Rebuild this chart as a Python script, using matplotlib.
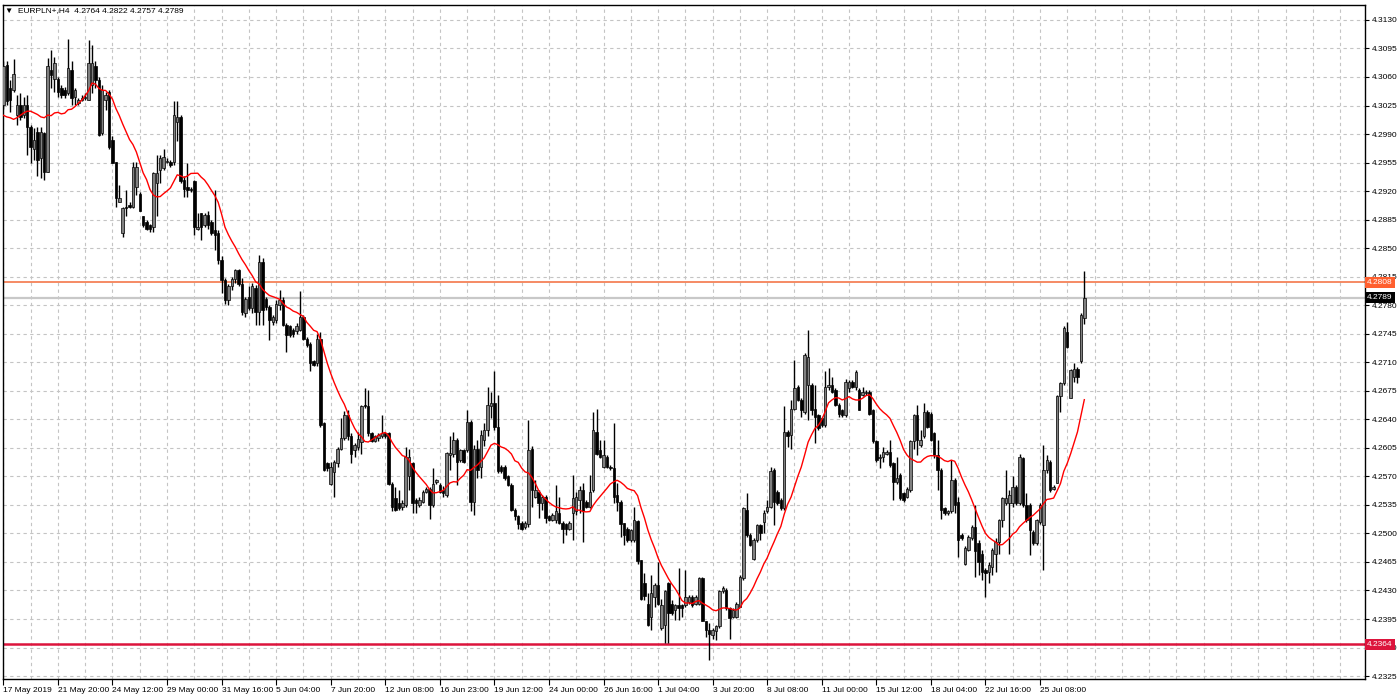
import numpy as np
import pandas as pd
import matplotlib.pyplot as plt
from matplotlib.transforms import blended_transform_factory

plt.rcParams['font.family'] = ['Liberation Sans', 'DejaVu Sans']

header = "\u25BC  EURPLN+,H4  4.2764 4.2822 4.2757 4.2789"

# H4 bars
opens = [
    4.3026, 4.3075, 4.3046, 4.3044, 4.3013, 4.3026, 4.3013, 4.3026, 4.2999, 4.2972,
    4.2993, 4.2960, 4.2991, 4.2944, 4.3069, 4.3058, 4.3058, 4.3046, 4.3044, 4.3040,
    4.3069, 4.3036, 4.3028, 4.3032, 4.3034, 4.3032, 4.3050, 4.3073, 4.3056, 4.2991,
    4.3032, 4.3042, 4.2983, 4.2956, 4.2907, 4.2868, 4.2901, 4.2903, 4.2901, 4.2925,
    4.2917, 4.2889, 4.2882, 4.2878, 4.2876, 4.2930, 4.2946, 4.2948, 4.2956, 4.2956,
    4.2956, 4.3005, 4.3011, 4.2934, 4.2925, 4.2923, 4.2932, 4.2874, 4.2893, 4.2878,
    4.2891, 4.2882, 4.2872, 4.2868, 4.2835, 4.2811, 4.2786, 4.2803, 4.2812, 4.2823,
    4.2806, 4.2770, 4.2790, 4.2776, 4.2801, 4.2772, 4.2833, 4.2788, 4.2778, 4.2760,
    4.2762, 4.2780, 4.2786, 4.2756, 4.2754, 4.2750, 4.2748, 4.2750, 4.2766, 4.2739,
    4.2733, 4.2711, 4.2709, 4.2739, 4.2635, 4.2586, 4.2561, 4.2575, 4.2586, 4.2604,
    4.2617, 4.2645, 4.2619, 4.2602, 4.2606, 4.2612, 4.2658, 4.2656, 4.2623, 4.2614,
    4.2617, 4.2619, 4.2623, 4.2623, 4.2561, 4.2543, 4.2537, 4.2533, 4.2535, 4.2570,
    4.2586, 4.2541, 4.2535, 4.2539, 4.2551, 4.2555, 4.2535, 4.2563, 4.2560, 4.2553,
    4.2547, 4.2596, 4.2598, 4.2615, 4.2590, 4.2602, 4.2602, 4.2637, 4.2539, 4.2604,
    4.2582, 4.2615, 4.2627, 4.2656, 4.2660, 4.2631, 4.2582, 4.2582, 4.2570, 4.2560,
    4.2529, 4.2521, 4.2513, 4.2508, 4.2511, 4.2604, 4.2545, 4.2551, 4.2537, 4.2545,
    4.2521, 4.2517, 4.2517, 4.2525, 4.2513, 4.2511, 4.2506, 4.2525, 4.2527, 4.2541,
    4.2553, 4.2539, 4.2533, 4.2553, 4.2625, 4.2602, 4.2582, 4.2594, 4.2582, 4.2580,
    4.2547, 4.2539, 4.2513, 4.2506, 4.2492, 4.2492, 4.2515, 4.2468, 4.2439, 4.2414,
    4.2398, 4.2422, 4.2437, 4.2384, 4.2388, 4.2439, 4.2414, 4.2406, 4.2412, 4.2412,
    4.2412, 4.2416, 4.2422, 4.2414, 4.2414, 4.2445, 4.2392, 4.2382, 4.2375, 4.2380,
    4.2386, 4.2429, 4.2431, 4.2408, 4.2398, 4.2398, 4.2410, 4.2445, 4.2529, 4.2498,
    4.2469, 4.2492, 4.2510, 4.2514, 4.2527, 4.2533, 4.2578, 4.2551, 4.2541, 4.2531,
    4.2625, 4.2621, 4.2653, 4.2680, 4.2664, 4.2649, 4.2682, 4.2682, 4.2653, 4.2645,
    4.2641, 4.2633, 4.2680, 4.2682, 4.2676, 4.2658, 4.2651, 4.2645, 4.2678, 4.2686,
    4.2680, 4.2676, 4.2670, 4.2672, 4.2674, 4.2651, 4.2613, 4.2592, 4.2594, 4.2598,
    4.2600, 4.2586, 4.2563, 4.2572, 4.2549, 4.2545, 4.2553, 4.2613, 4.2645, 4.2609,
    4.2619, 4.2649, 4.2647, 4.2623, 4.2596, 4.2578, 4.2531, 4.2525, 4.2527, 4.2566,
    4.2539, 4.2498, 4.2463, 4.2480, 4.2494, 4.2508, 4.2488, 4.2475, 4.2455, 4.2453,
    4.2459, 4.2475, 4.2490, 4.2516, 4.2537, 4.2537, 4.2537, 4.2557, 4.2537, 4.2592,
    4.2535, 4.2535, 4.2502, 4.2488, 4.2514, 4.2510, 4.2578, 4.2588, 4.2555, 4.2562,
    4.2668, 4.2684, 4.2747, 4.2666, 4.2692, 4.2702, 4.2711, 4.2764,
]
highs = [
    4.3079, 4.3079, 4.3056, 4.3082, 4.3038, 4.3040, 4.3036, 4.3038, 4.3001, 4.2997,
    4.2999, 4.2999, 4.2993, 4.3083, 4.3093, 4.3085, 4.3060, 4.3050, 4.3048, 4.3107,
    4.3079, 4.3046, 4.3034, 4.3038, 4.3040, 4.3105, 4.3099, 4.3079, 4.3060, 4.3050,
    4.3042, 4.3044, 4.2987, 4.2956, 4.2928, 4.2901, 4.2921, 4.2907, 4.2956, 4.2956,
    4.2919, 4.2889, 4.2884, 4.2880, 4.2944, 4.2964, 4.2964, 4.2972, 4.2960, 4.2958,
    4.3030, 4.3030, 4.3013, 4.2938, 4.2954, 4.2925, 4.2934, 4.2893, 4.2893, 4.2893,
    4.2895, 4.2884, 4.2921, 4.2872, 4.2840, 4.2813, 4.2806, 4.2815, 4.2825, 4.2825,
    4.2813, 4.2790, 4.2803, 4.2807, 4.2805, 4.2842, 4.2838, 4.2790, 4.2780, 4.2768,
    4.2786, 4.2799, 4.2790, 4.2758, 4.2756, 4.2752, 4.2758, 4.2797, 4.2768, 4.2741,
    4.2735, 4.2713, 4.2745, 4.2747, 4.2637, 4.2588, 4.2588, 4.2590, 4.2606, 4.2641,
    4.2650, 4.2651, 4.2623, 4.2611, 4.2625, 4.2658, 4.2678, 4.2676, 4.2625, 4.2621,
    4.2623, 4.2645, 4.2625, 4.2625, 4.2563, 4.2557, 4.2553, 4.2541, 4.2606, 4.2604,
    4.2588, 4.2543, 4.2545, 4.2553, 4.2557, 4.2557, 4.2580, 4.2567, 4.2562, 4.2558,
    4.2600, 4.2619, 4.2625, 4.2617, 4.2604, 4.2604, 4.2651, 4.2639, 4.2608, 4.2615,
    4.2627, 4.2635, 4.2680, 4.2674, 4.2699, 4.2670, 4.2584, 4.2584, 4.2572, 4.2562,
    4.2531, 4.2523, 4.2515, 4.2515, 4.2639, 4.2607, 4.2566, 4.2553, 4.2547, 4.2547,
    4.2523, 4.2525, 4.2560, 4.2545, 4.2515, 4.2513, 4.2515, 4.2572, 4.2551, 4.2558,
    4.2562, 4.2541, 4.2572, 4.2649, 4.2653, 4.2615, 4.2615, 4.2596, 4.2584, 4.2635,
    4.2562, 4.2541, 4.2513, 4.2508, 4.2506, 4.2533, 4.2517, 4.2468, 4.2451, 4.2427,
    4.2449, 4.2439, 4.2465, 4.2420, 4.2431, 4.2441, 4.2418, 4.2414, 4.2457, 4.2414,
    4.2455, 4.2425, 4.2425, 4.2425, 4.2447, 4.2447, 4.2392, 4.2390, 4.2384, 4.2388,
    4.2431, 4.2435, 4.2433, 4.2410, 4.2408, 4.2416, 4.2449, 4.2533, 4.2549, 4.2500,
    4.2494, 4.2512, 4.2512, 4.2529, 4.2541, 4.2582, 4.2580, 4.2553, 4.2543, 4.2656,
    4.2627, 4.2664, 4.2713, 4.2682, 4.2666, 4.2721, 4.2750, 4.2684, 4.2682, 4.2647,
    4.2643, 4.2699, 4.2703, 4.2692, 4.2678, 4.2660, 4.2653, 4.2690, 4.2688, 4.2688,
    4.2701, 4.2678, 4.2680, 4.2676, 4.2676, 4.2653, 4.2615, 4.2598, 4.2606, 4.2602,
    4.2615, 4.2588, 4.2594, 4.2574, 4.2551, 4.2557, 4.2615, 4.2647, 4.2657, 4.2627,
    4.2660, 4.2651, 4.2649, 4.2625, 4.2615, 4.2580, 4.2533, 4.2529, 4.2590, 4.2568,
    4.2545, 4.2500, 4.2484, 4.2498, 4.2510, 4.2535, 4.2492, 4.2480, 4.2457, 4.2465,
    4.2482, 4.2494, 4.2518, 4.2545, 4.2578, 4.2553, 4.2570, 4.2559, 4.2598, 4.2594,
    4.2549, 4.2537, 4.2504, 4.2518, 4.2537, 4.2608, 4.2596, 4.2590, 4.2559, 4.2670,
    4.2686, 4.2754, 4.2760, 4.2702, 4.2709, 4.2704, 4.2770, 4.2822,
]
lows = [
    4.3021, 4.3026, 4.3017, 4.3042, 4.3001, 4.3007, 4.3010, 4.2964, 4.2954, 4.2958,
    4.2938, 4.2936, 4.2934, 4.2944, 4.3046, 4.3042, 4.3036, 4.3034, 4.3034, 4.3038,
    4.3026, 4.3026, 4.3026, 4.3030, 4.3032, 4.3032, 4.3040, 4.3046, 4.2987, 4.2989,
    4.3019, 4.2972, 4.2954, 4.2901, 4.2907, 4.2864, 4.2889, 4.2899, 4.2899, 4.2915,
    4.2895, 4.2876, 4.2872, 4.2870, 4.2870, 4.2889, 4.2930, 4.2946, 4.2954, 4.2950,
    4.2952, 4.2981, 4.2930, 4.2913, 4.2913, 4.2919, 4.2866, 4.2872, 4.2860, 4.2876,
    4.2874, 4.2866, 4.2848, 4.2830, 4.2795, 4.2782, 4.2780, 4.2799, 4.2807, 4.2803,
    4.2768, 4.2766, 4.2774, 4.2770, 4.2756, 4.2756, 4.2756, 4.2774, 4.2737, 4.2756,
    4.2758, 4.2774, 4.2754, 4.2723, 4.2741, 4.2741, 4.2745, 4.2748, 4.2737, 4.2729,
    4.2699, 4.2705, 4.2705, 4.2631, 4.2576, 4.2576, 4.2559, 4.2545, 4.2582, 4.2602,
    4.2615, 4.2615, 4.2586, 4.2594, 4.2602, 4.2598, 4.2654, 4.2619, 4.2612, 4.2612,
    4.2614, 4.2617, 4.2617, 4.2559, 4.2527, 4.2527, 4.2529, 4.2529, 4.2533, 4.2553,
    4.2525, 4.2525, 4.2533, 4.2537, 4.2549, 4.2518, 4.2533, 4.2561, 4.2549, 4.2545,
    4.2545, 4.2578, 4.2594, 4.2560, 4.2588, 4.2586, 4.2600, 4.2527, 4.2523, 4.2568,
    4.2568, 4.2607, 4.2619, 4.2641, 4.2627, 4.2574, 4.2574, 4.2566, 4.2558, 4.2527,
    4.2517, 4.2506, 4.2504, 4.2506, 4.2508, 4.2533, 4.2543, 4.2519, 4.2529, 4.2513,
    4.2515, 4.2515, 4.2513, 4.2511, 4.2488, 4.2498, 4.2504, 4.2492, 4.2523, 4.2525,
    4.2490, 4.2531, 4.2531, 4.2551, 4.2596, 4.2592, 4.2580, 4.2580, 4.2578, 4.2537,
    4.2527, 4.2496, 4.2486, 4.2490, 4.2490, 4.2490, 4.2463, 4.2418, 4.2418, 4.2386,
    4.2382, 4.2410, 4.2412, 4.2382, 4.2365, 4.2365, 4.2400, 4.2394, 4.2394, 4.2398,
    4.2410, 4.2414, 4.2410, 4.2412, 4.2412, 4.2392, 4.2373, 4.2345, 4.2371, 4.2369,
    4.2384, 4.2427, 4.2406, 4.2371, 4.2396, 4.2396, 4.2410, 4.2443, 4.2496, 4.2484,
    4.2467, 4.2490, 4.2492, 4.2500, 4.2525, 4.2531, 4.2510, 4.2535, 4.2529, 4.2529,
    4.2606, 4.2604, 4.2651, 4.2662, 4.2643, 4.2647, 4.2639, 4.2645, 4.2611, 4.2627,
    4.2631, 4.2631, 4.2676, 4.2672, 4.2656, 4.2643, 4.2643, 4.2643, 4.2674, 4.2678,
    4.2676, 4.2651, 4.2668, 4.2670, 4.2645, 4.2611, 4.2588, 4.2580, 4.2588, 4.2596,
    4.2582, 4.2541, 4.2561, 4.2541, 4.2539, 4.2543, 4.2551, 4.2604, 4.2596, 4.2606,
    4.2617, 4.2629, 4.2613, 4.2592, 4.2553, 4.2518, 4.2523, 4.2523, 4.2525, 4.2525,
    4.2471, 4.2492, 4.2461, 4.2478, 4.2492, 4.2447, 4.2449, 4.2443, 4.2422, 4.2439,
    4.2449, 4.2453, 4.2475, 4.2508, 4.2535, 4.2475, 4.2533, 4.2535, 4.2535, 4.2533,
    4.2514, 4.2473, 4.2486, 4.2486, 4.2512, 4.2455, 4.2574, 4.2551, 4.2553, 4.2562,
    4.2649, 4.2682, 4.2727, 4.2666, 4.2686, 4.2684, 4.2709, 4.2757,
]
closes = [
    4.3073, 4.3030, 4.3032, 4.3064, 4.3026, 4.3011, 4.3026, 4.2999, 4.2974, 4.2983,
    4.2958, 4.2993, 4.2944, 4.3073, 4.3062, 4.3077, 4.3042, 4.3038, 4.3038, 4.3071,
    4.3034, 4.3044, 4.3032, 4.3034, 4.3036, 4.3077, 4.3077, 4.3056, 4.2989, 4.3044,
    4.3038, 4.2974, 4.2954, 4.2911, 4.2911, 4.2899, 4.2899, 4.2901, 4.2950, 4.2950,
    4.2895, 4.2878, 4.2874, 4.2874, 4.2942, 4.2942, 4.2960, 4.2962, 4.2956, 4.2952,
    4.3013, 4.3011, 4.2932, 4.2923, 4.2921, 4.2921, 4.2876, 4.2876, 4.2876, 4.2891,
    4.2878, 4.2868, 4.2866, 4.2835, 4.2811, 4.2786, 4.2803, 4.2812, 4.2823, 4.2806,
    4.2772, 4.2788, 4.2776, 4.2803, 4.2772, 4.2833, 4.2774, 4.2778, 4.2762, 4.2766,
    4.2782, 4.2786, 4.2756, 4.2743, 4.2743, 4.2745, 4.2754, 4.2766, 4.2739, 4.2731,
    4.2709, 4.2707, 4.2739, 4.2633, 4.2578, 4.2580, 4.2582, 4.2588, 4.2604, 4.2617,
    4.2645, 4.2619, 4.2598, 4.2608, 4.2616, 4.2656, 4.2656, 4.2623, 4.2614, 4.2619,
    4.2621, 4.2623, 4.2619, 4.2561, 4.2533, 4.2529, 4.2531, 4.2537, 4.2594, 4.2594,
    4.2537, 4.2537, 4.2541, 4.2551, 4.2555, 4.2535, 4.2561, 4.2565, 4.2551, 4.2549,
    4.2599, 4.2599, 4.2615, 4.2588, 4.2602, 4.2588, 4.2637, 4.2539, 4.2604, 4.2578,
    4.2621, 4.2627, 4.2658, 4.2660, 4.2631, 4.2576, 4.2576, 4.2568, 4.2560, 4.2529,
    4.2521, 4.2511, 4.2506, 4.2513, 4.2602, 4.2553, 4.2553, 4.2537, 4.2545, 4.2519,
    4.2517, 4.2523, 4.2527, 4.2513, 4.2506, 4.2506, 4.2513, 4.2543, 4.2545, 4.2553,
    4.2527, 4.2533, 4.2551, 4.2627, 4.2598, 4.2594, 4.2596, 4.2582, 4.2580, 4.2545,
    4.2539, 4.2511, 4.2498, 4.2492, 4.2504, 4.2517, 4.2466, 4.2420, 4.2423, 4.2388,
    4.2427, 4.2437, 4.2414, 4.2412, 4.2429, 4.2402, 4.2402, 4.2412, 4.2408, 4.2408,
    4.2422, 4.2422, 4.2412, 4.2422, 4.2445, 4.2392, 4.2382, 4.2377, 4.2382, 4.2386,
    4.2429, 4.2433, 4.2408, 4.2396, 4.2406, 4.2414, 4.2447, 4.2531, 4.2498, 4.2486,
    4.2492, 4.2510, 4.2500, 4.2525, 4.2533, 4.2576, 4.2539, 4.2537, 4.2531, 4.2625,
    4.2619, 4.2653, 4.2678, 4.2664, 4.2651, 4.2719, 4.2717, 4.2651, 4.2643, 4.2629,
    4.2633, 4.2680, 4.2682, 4.2674, 4.2658, 4.2647, 4.2645, 4.2686, 4.2686, 4.2680,
    4.2698, 4.2651, 4.2674, 4.2674, 4.2647, 4.2613, 4.2590, 4.2594, 4.2600, 4.2600,
    4.2584, 4.2563, 4.2568, 4.2543, 4.2541, 4.2555, 4.2613, 4.2645, 4.2615, 4.2615,
    4.2649, 4.2631, 4.2615, 4.2596, 4.2578, 4.2529, 4.2525, 4.2527, 4.2566, 4.2535,
    4.2492, 4.2494, 4.2482, 4.2496, 4.2508, 4.2478, 4.2465, 4.2453, 4.2451, 4.2461,
    4.2480, 4.2490, 4.2516, 4.2543, 4.2543, 4.2547, 4.2557, 4.2537, 4.2594, 4.2535,
    4.2516, 4.2504, 4.2488, 4.2516, 4.2535, 4.2578, 4.2590, 4.2553, 4.2557, 4.2668,
    4.2684, 4.2752, 4.2729, 4.2700, 4.2702, 4.2692, 4.2768, 4.2789,
]

# moving average: first bars (history is off-screen)
ma_period = 14
ma_head = [4.3013, 4.3011, 4.3010, 4.3008, 4.3010, 4.3013, 4.3016,
           4.3018, 4.3018, 4.3016, 4.3014, 4.3011, 4.3010]

date_labels = ["17 May 2019", "21 May 20:00", "24 May 12:00", "29 May 00:00",
               "31 May 16:00", "5 Jun 04:00", "7 Jun 20:00", "12 Jun 08:00",
               "16 Jun 23:00", "19 Jun 12:00", "24 Jun 00:00", "26 Jun 16:00",
               "1 Jul 04:00", "3 Jul 20:00", "8 Jul 08:00", "11 Jul 00:00",
               "15 Jul 12:00", "18 Jul 04:00", "22 Jul 16:00", "25 Jul 08:00"]
label_step = 16
grid_step = 8

price_ticks = [4.2325, 4.2360, 4.2395, 4.2430, 4.2465, 4.2500, 4.2535, 4.2570,
               4.2605, 4.2640, 4.2675, 4.2710, 4.2745, 4.2780, 4.2815, 4.2850,
               4.2885, 4.2920, 4.2955, 4.2990, 4.3025, 4.3060, 4.3095, 4.3130]

# (price, line colour, label box colour, line width)
levels = [(4.2789, '#c8c8c8', '#000000', 1.6),
          (4.2808, '#f26b3a', '#ff5f2e', 1.1),
          (4.2364, '#dc143c', '#dc143c', 1.8)]

n = min(len(opens), len(highs), len(lows), len(closes))
x = np.arange(n)
o = np.array(opens[:n])
h = np.array(highs[:n])
l = np.array(lows[:n])
c = np.array(closes[:n])

ma = pd.Series(c).rolling(ma_period).mean().to_numpy()
ma[:len(ma_head)] = ma_head

fig = plt.figure(figsize=(14, 6.97), dpi=100)
ax = fig.add_axes([3 / 1400, 18 / 697, 1362 / 1400, 674 / 697])

bar_px = 3.41
ax.set_xlim(-0.1, -0.1 + 1362 / bar_px)
ax.set_ylim(4.23214, 4.31483)

# level lines
for price, lc, bc, lw in levels:
    ax.axhline(price, color=lc, lw=lw, zorder=2)

# candles
ax.vlines(x, l, h, color='black', lw=1, zorder=3)
bull = c >= o
body = np.maximum(np.abs(c - o), 0.00004)
bottom = np.minimum(o, c)
ax.bar(x[bull], body[bull], bottom=bottom[bull], width=0.72,
       color='#808080', edgecolor='black', linewidth=0.5, zorder=4)
ax.bar(x[~bull], body[~bull], bottom=bottom[~bull], width=0.72,
       color='black', edgecolor='black', linewidth=0.5, zorder=4)

ax.plot(x, ma, color='red', lw=1, zorder=5)

# axes / grid
grid_kw = dict(color='#c4c4c4', lw=0.8, ls=(0, (3, 3)))
ax.set_yticks(price_ticks)
ax.set_yticklabels([f"{p:.4f}" for p in price_ticks])
ax.yaxis.tick_right()
ax.set_xticks(np.arange(len(date_labels)) * label_step)
ax.set_xticklabels(date_labels)
for t in ax.get_xticklabels():
    t.set_ha('left')
ax.set_xticks(np.arange(0, 400, grid_step), minor=True)
ax.grid(True, which='major', axis='y', **grid_kw)
ax.grid(True, which='both', axis='x', **grid_kw)
ax.set_axisbelow(True)
ax.tick_params(axis='y', which='major', direction='out', length=3, width=0.8,
               labelsize=6, pad=2)
ax.tick_params(axis='x', which='major', direction='out', length=4, width=0.8,
               labelsize=6, pad=2)
ax.tick_params(axis='x', which='minor', length=0)
for s in ax.spines.values():
    s.set_color('black')
    s.set_linewidth(1)

# price labels on the right scale
trans = blended_transform_factory(ax.transAxes, ax.transData)
for price, lc, bc, lw in levels:
    ax.text(1.0015, price, f"{price:.4f}", transform=trans, ha='left', va='center',
            fontsize=6, color='white', zorder=10, clip_on=False,
            bbox=dict(boxstyle='square,pad=0.25', fc=bc, ec='none'))

fig.text(5 / 1400, 1 - 11 / 697, header, fontsize=6, va='center', ha='left')

fig.savefig('out.png', dpi=100, facecolor='white')
